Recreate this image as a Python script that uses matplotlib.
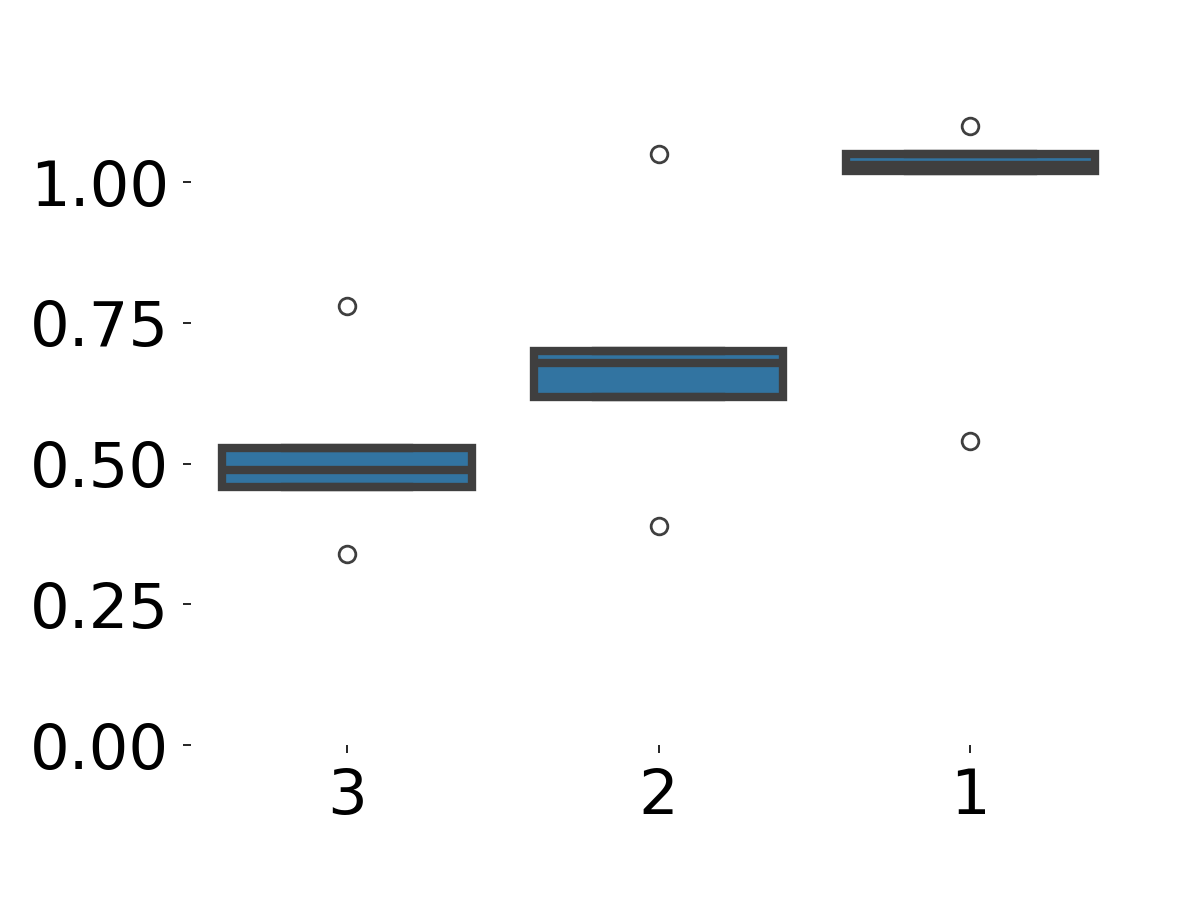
import matplotlib
matplotlib.use("Agg")
import matplotlib.pyplot as plt
import seaborn as sns
import pandas as pd

categories = ["3", "2", "1"]
values_3 = [0.339, 0.458, 0.489, 0.528, 0.780]
values_2 = [0.389, 0.619, 0.679, 0.700, 1.050]
values_1 = [0.540, 1.019, 1.031, 1.050, 1.100]
y_ticks = [0.0, 0.25, 0.5, 0.75, 1.0]

df = pd.DataFrame({
    "group": ["3"] * len(values_3) + ["2"] * len(values_2) + ["1"] * len(values_1),
    "value": values_3 + values_2 + values_1,
})

fig = plt.figure(figsize=(11.96, 8.97), dpi=100)
ax = fig.add_axes([191 / 1196, (897 - 745) / 897, (1126 - 191) / 1196, (745 - 105) / 897])

sns.boxplot(data=df, x="group", y="value", order=categories, ax=ax,
            color="#1f77b4", saturation=0.75, width=0.8, linewidth=6,
            linecolor="#3f3f3f", fliersize=12,
            flierprops=dict(markeredgewidth=2, markeredgecolor="#3f3f3f"))

for s in ax.spines.values():
    s.set_visible(False)
ax.set_xlabel("")
ax.set_ylabel("")
ax.set_ylim(0, 1.137)
ax.set_yticks(y_ticks)
ax.set_yticklabels([f"{t:.2f}" for t in y_ticks])
ax.tick_params(axis="both", labelsize=45, length=6, width=1.2, color="black", pad=10)

fig.savefig("out.png", dpi=100)
